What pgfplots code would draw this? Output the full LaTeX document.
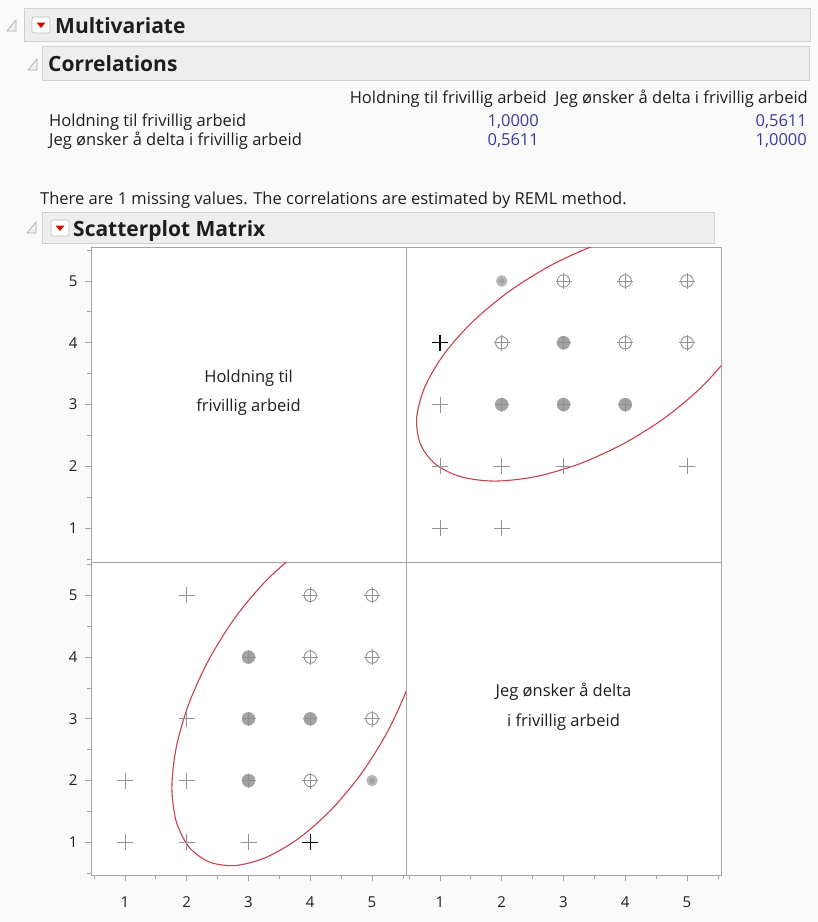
\documentclass[border=0pt]{standalone}
\usepackage{fontspec}
\setmainfont{Open Sans}
\usepackage{pgfplots}
\pgfplotsset{compat=1.18}

\definecolor{bg}{HTML}{FAFAFA}
\definecolor{barfill}{HTML}{EEEEEE}
\definecolor{barline}{HTML}{CFCFCF}
\definecolor{frame}{HTML}{A4A4A4}
\definecolor{mk}{HTML}{929292}
\definecolor{mkfill}{HTML}{A2A2A2}
\definecolor{dotfill}{HTML}{B8B8B8}
\definecolor{ell}{HTML}{C8404F}
\definecolor{num}{HTML}{3A3A9E}
\definecolor{txt}{HTML}{1E1E1E}

\newcommand\hfont{\fontsize{21}{25}\selectfont\bfseries}
\newcommand\bfont{\fontsize{16.5}{19}\selectfont}
\newcommand\tfont{\fontsize{15}{15}\selectfont}

% disclosure triangle and red menu icon, top-left corner given in px
\newcommand\tri[2]{\draw[gray!65, fill=gray!12, line width=0.7pt]
  (#1+9,#2) -- (#1+9,#2+11) -- (#1,#2+11) -- cycle;}
\newcommand\redicon[2]{\draw[gray!55, fill=white, rounded corners=2pt, line width=0.6pt]
  (#1,#2) rectangle (#1+18,#2+16);
  \fill[red!85!black] (#1+4.5,#2+5.5) -- (#1+13.5,#2+5.5) -- (#1+9,#2+11) -- cycle;}

\pgfplotsset{
  mcell/.style={scale only axis, width=315pt, xmin=0.45, xmax=5.55,
    axis line style={draw=frame, line width=1pt},
    axis background/.style={fill=white},
    tick style={draw=frame, line width=0.8pt}, tick align=outside,
    major tick length=6pt, minor tick length=4pt,
    tick label style={font=\tfont, text=txt},
    xticklabel style={yshift=-12pt},
    yticklabel style={xshift=-4pt},
    /pgf/number format/assume math mode=true,
    xtick pos=bottom, ytick pos=left},
  toprow/.style={height=315pt, ymin=0.45, ymax=5.55},
  botrow/.style={height=313pt, ymin=0.47, ymax=5.54},
  pl/.style={only marks, mark=+, mark size=8pt, color=mk, line width=0.9pt},
  blk/.style={only marks, mark=+, mark size=8pt, color=black, line width=1.3pt},
  ring/.style={only marks, mark=o, mark size=6.2pt, color=mk, line width=0.9pt},
  disk/.style={only marks, mark=*, mark size=6.5pt, draw=mkfill, fill=mkfill},
  dcross/.style={only marks, mark=+, mark size=7pt, color=mk, line width=0.8pt},
  dot/.style={only marks, mark=*, mark size=5.5pt, draw=dotfill, fill=dotfill},
  dotc/.style={only marks, mark=*, mark size=2.6pt, draw=mkfill, fill=mkfill},
  el/.style={ell, line width=1.1pt, smooth, mark=none},
}

\begin{document}
\begin{tikzpicture}
\fill[bg] (0pt,0pt) rectangle (818pt,-922pt);
\begin{scope}[x=1pt,y=-1pt]
  \draw[barline, fill=barfill] (24,8.5) rectangle (810,41);
  \draw[barline, fill=barfill] (42.5,46.5) rectangle (809,80);
  \draw[barline, fill=barfill] (42.5,212) rectangle (714,243);
  \tri{7}{20}
  \tri{28}{59}
  \tri{27}{222}
  \redicon{32}{17}
  \redicon{51}{220}
  \node[anchor=base west, inner sep=0, text=txt] at (55,33) {\hfont Multivariate};
  \node[anchor=base west, inner sep=0, text=txt] at (48,71.5) {\hfont Correlations};
  \node[anchor=base west, inner sep=0, text=txt] at (73,236) {\hfont Scatterplot Matrix};

  \begin{scope}[every node/.style={inner sep=0, text=txt, font=\bfont}]
    \node[anchor=base east] at (547,103) {Holdning til frivillig arbeid};
    \node[anchor=base east] at (808,103) {Jeg ønsker å delta i frivillig arbeid};
    \node[anchor=base west] at (49,126) {Holdning til frivillig arbeid};
    \node[anchor=base west] at (49,145) {Jeg ønsker å delta i frivillig arbeid};
    \node[anchor=base east, text=num] at (539,126) {1,0000};
    \node[anchor=base east, text=num] at (807,126) {0,5611};
    \node[anchor=base east, text=num] at (539,145) {0,5611};
    \node[anchor=base east, text=num] at (807,145) {1,0000};
    \node[anchor=base west] at (40,204) {There are 1 missing values. The correlations are estimated by REML method.};
  \end{scope}
\end{scope}

% top-left: label cell
\begin{axis}[mcell, toprow, at={(91pt,-562pt)}, anchor=south west,
  xtick=\empty, ytick={1,...,5}, minor ytick={0.5,1.5,...,5.5}]
\end{axis}

% top-right: x = Jeg ønsker, y = Holdning
\begin{axis}[mcell, toprow, at={(406pt,-562pt)}, anchor=south west,
  xtick=\empty, ytick=\empty]
\addplot[pl] coordinates {(1,3) (1,2) (2,2) (3,2) (5,2) (1,1) (2,1)};
\addplot[ring] coordinates {(3,5) (4,5) (5,5) (2,4) (4,4) (5,4)};
\addplot[pl] coordinates {(3,5) (4,5) (5,5) (2,4) (4,4) (5,4)};
\addplot[disk] coordinates {(3,4) (2,3) (3,3) (4,3)};
\addplot[dcross] coordinates {(3,4) (2,3) (3,3) (4,3)};
\addplot[dot] coordinates {(2,5)};
\addplot[dotc] coordinates {(2,5)};
\addplot[blk] coordinates {(1,4)};
\addplot[el] coordinates {
 (4.862,5.848) (5.411,5.778) (5.821,5.574) (6.065,5.249) (6.125,4.826)
 (5.997,4.333) (5.691,3.804) (5.227,3.275) (4.637,2.782) (3.960,2.359)
 (3.244,2.034) (2.536,1.830) (1.886,1.760) (1.337,1.830) (0.927,2.034)
 (0.683,2.359) (0.623,2.782) (0.751,3.275) (1.057,3.804) (1.521,4.333)
 (2.112,4.826) (2.788,5.249) (3.504,5.574) (4.212,5.778) (4.862,5.848)};
\end{axis}

% bottom-left: x = Holdning, y = Jeg ønsker
\begin{axis}[mcell, botrow, at={(91pt,-875pt)}, anchor=south west,
  xtick={1,...,5}, minor xtick={0.5,1.5,...,5.5},
  ytick={1,...,5}, minor ytick={0.5,1.5,...,5.5}]
\addplot[pl] coordinates {(3,1) (2,1) (2,2) (2,3) (2,5) (1,1) (1,2)};
\addplot[ring] coordinates {(5,3) (5,4) (5,5) (4,2) (4,4) (4,5)};
\addplot[pl] coordinates {(5,3) (5,4) (5,5) (4,2) (4,4) (4,5)};
\addplot[disk] coordinates {(4,3) (3,2) (3,3) (3,4)};
\addplot[dcross] coordinates {(4,3) (3,2) (3,3) (3,4)};
\addplot[dot] coordinates {(5,2)};
\addplot[dotc] coordinates {(5,2)};
\addplot[blk] coordinates {(4,1)};
\addplot[el] coordinates {
 (5.848,4.862) (5.778,5.411) (5.574,5.821) (5.249,6.065) (4.826,6.125)
 (4.333,5.997) (3.804,5.691) (3.275,5.227) (2.782,4.637) (2.359,3.960)
 (2.034,3.244) (1.830,2.536) (1.760,1.886) (1.830,1.337) (2.034,0.927)
 (2.359,0.683) (2.782,0.623) (3.275,0.751) (3.804,1.057) (4.333,1.521)
 (4.826,2.112) (5.249,2.788) (5.574,3.504) (5.778,4.212) (5.848,4.862)};
\end{axis}

% bottom-right: label cell
\begin{axis}[mcell, botrow, at={(406pt,-875pt)}, anchor=south west,
  xtick={1,...,5}, minor xtick={0.5,1.5,...,5.5}, ytick=\empty]
\end{axis}

\begin{scope}[x=1pt,y=-1pt, every node/.style={inner sep=0, text=txt, font=\bfont, anchor=base}]
  \node at (248.5,382) {Holdning til};
  \node at (248.5,411) {frivillig arbeid};
  \node at (563.5,696) {Jeg ønsker å delta};
  \node at (563.5,726) {i frivillig arbeid};
\end{scope}

\pgfresetboundingbox
\path (0pt,0pt) rectangle (818pt,-922pt);
\end{tikzpicture}
\end{document}
